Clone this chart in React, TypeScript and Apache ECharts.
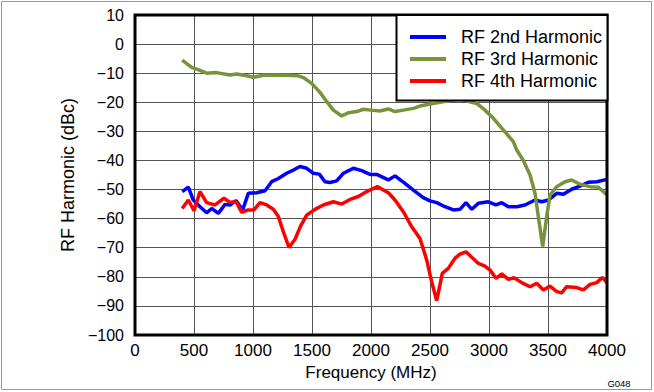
import React, { useEffect, useRef } from "react";
import * as echarts from "echarts";

const freq2 = [400, 452, 494, 551, 607, 650, 706, 763, 805, 856, 913, 960, 1031, 1102, 1158, 1215, 1285, 1342, 1398, 1455, 1511, 1562, 1610, 1653, 1709, 1766, 1850, 1921, 1992, 2048, 2147, 2203, 2288, 2359, 2443, 2500, 2557, 2627, 2698, 2754, 2805, 2854, 2910, 2994, 3059, 3108, 3164, 3235, 3305, 3390, 3447, 3503, 3574, 3630, 3701, 3771, 3842, 3913, 4000];
const harm2 = [-50.7, -49.2, -53.6, -55.9, -58.0, -56.5, -58.2, -55.1, -55.3, -53.8, -57.0, -51.3, -51.1, -50.4, -47.3, -46.2, -44.4, -43.3, -42.1, -42.7, -44.4, -44.7, -47.3, -47.6, -47.0, -44.4, -42.7, -43.5, -44.8, -44.8, -46.7, -45.3, -47.9, -50.2, -52.8, -53.9, -54.5, -55.9, -57.0, -56.8, -54.5, -56.8, -54.7, -54.2, -55.3, -54.5, -55.9, -55.9, -55.3, -53.6, -54.2, -53.6, -51.3, -51.6, -49.9, -48.8, -47.5, -47.3, -46.5];

const freq3 = [400, 480, 540, 607, 690, 805, 862, 946, 1003, 1088, 1172, 1285, 1384, 1427, 1497, 1568, 1625, 1681, 1752, 1808, 1879, 1935, 2000, 2076, 2147, 2203, 2274, 2359, 2415, 2500, 2585, 2680, 2760, 2839, 2896, 2966, 3037, 3121, 3206, 3235, 3291, 3348, 3390, 3418, 3455, 3489, 3517, 3574, 3644, 3701, 3771, 3856, 3927, 4000];
const harm3 = [-5.5, -8.0, -8.9, -10.0, -9.8, -10.6, -10.3, -10.9, -11.4, -10.7, -10.6, -10.7, -10.9, -11.5, -13.5, -16.6, -19.8, -22.7, -24.7, -23.6, -23.2, -22.4, -22.7, -23.0, -22.3, -23.2, -22.7, -22.1, -21.3, -20.6, -20.0, -19.3, -19.0, -19.8, -20.4, -22.7, -25.5, -29.5, -33.5, -36.4, -40.0, -45.0, -51.3, -59.3, -69.6, -59.3, -51.9, -49.0, -47.3, -46.7, -48.2, -49.0, -49.2, -51.9];

const freq4 = [400, 452, 500, 551, 607, 678, 754, 805, 856, 904, 960, 1008, 1059, 1116, 1172, 1215, 1257, 1305, 1356, 1404, 1455, 1525, 1596, 1681, 1752, 1822, 1893, 1964, 2054, 2147, 2203, 2274, 2345, 2415, 2472, 2514, 2557, 2604, 2655, 2712, 2754, 2805, 2854, 2910, 2966, 3009, 3059, 3108, 3164, 3212, 3277, 3348, 3404, 3461, 3517, 3574, 3616, 3658, 3743, 3799, 3856, 3913, 3960, 4000];
const harm4 = [-56.5, -53.6, -57.3, -50.7, -54.5, -55.3, -53.0, -54.4, -54.2, -57.8, -57.0, -57.0, -54.5, -55.3, -56.8, -59.3, -64.5, -69.9, -67.1, -62.5, -58.8, -56.8, -55.3, -54.2, -55.0, -53.4, -52.4, -50.7, -49.0, -51.1, -53.6, -57.6, -62.8, -66.8, -74.2, -81.7, -88.2, -78.8, -77.1, -73.6, -72.2, -71.4, -73.3, -75.4, -76.3, -77.7, -80.5, -79.0, -80.9, -80.3, -82.0, -83.4, -82.2, -84.5, -83.2, -85.1, -85.5, -83.4, -83.7, -84.5, -82.6, -82.0, -80.2, -82.0];

const seriesNames = ["RF 2nd Harmonic", "RF 3rd Harmonic", "RF 4th Harmonic"];
const seriesColors = ["#0000FF", "#77933C", "#FF0000"];
const xTitle = "Frequency (MHz)";
const yTitle = "RF Harmonic (dBc)";
const noteText = "G048";

const FONT = "'Liberation Sans', Arial, sans-serif";

function pairs(xs: number[], ys: number[]) {
  return xs.map((x, i) => [x, ys[i]]);
}

export default function App() {
  const ref = useRef<HTMLDivElement>(null);
  useEffect(() => {
    if (!ref.current) return;
    const chart = echarts.init(ref.current, null, { renderer: "svg" });
    const datasets = [pairs(freq2, harm2), pairs(freq3, harm3), pairs(freq4, harm4)];
    chart.setOption({
      animation: false,
      backgroundColor: "#ffffff",
      textStyle: { fontFamily: FONT },
      grid: {
        left: 135,
        top: 15,
        width: 472,
        height: 320,
        show: true,
        borderColor: "#000",
        borderWidth: 3,
        backgroundColor: "transparent",
        z: 5,
      },
      xAxis: {
        type: "value",
        min: 0,
        max: 4000,
        interval: 500,
        name: xTitle,
        nameLocation: "middle",
        nameGap: 28,
        nameTextStyle: { fontSize: 17, color: "#000", fontFamily: FONT },
        axisLine: { show: false },
        axisTick: { show: false },
        axisLabel: {
          fontSize: 17,
          color: "#000",
          margin: 7,
          fontFamily: FONT,
          formatter: (v: number) => String(v),
        },
        splitLine: { show: true, lineStyle: { color: "#555", width: 1 } },
      },
      yAxis: {
        type: "value",
        min: -100,
        max: 10,
        interval: 10,
        name: yTitle,
        nameLocation: "middle",
        nameGap: 50,
        nameRotate: 90,
        nameTextStyle: { fontSize: 18, color: "#000", fontFamily: FONT },
        axisLine: { show: false },
        axisTick: { show: false },
        axisLabel: {
          fontSize: 16,
          color: "#000",
          margin: 11,
          fontFamily: FONT,
          formatter: (v: number) => String(v).replace("-", "\u2212"),
        },
        splitLine: { show: true, lineStyle: { color: "#555", width: 1 } },
      },
      legend: {
        orient: "vertical",
        left: 410,
        top: 26,
        padding: 0,
        itemGap: 0,
        itemWidth: 36,
        itemHeight: 4,
        icon: "rect",
        z: 20,
        textStyle: { fontSize: 18, color: "#000", lineHeight: 22, fontFamily: FONT, padding: [0, 0, 0, 10] },
        data: seriesNames,
      },
      graphic: [
        {
          type: "rect",
          z: 15,
          shape: { x: 396.5, y: 15, width: 211, height: 85.5 },
          style: { fill: "#fff", stroke: "#000", lineWidth: 2 },
        },
        {
          type: "rect",
          z: 0,
          silent: true,
          shape: { x: 1.5, y: 1.5, width: 650, height: 388 },
          style: { fill: "none", stroke: "#999", lineWidth: 1 },
        },
        {
          type: "text",
          z: 20,
          x: 619,
          y: 383.5,
          style: { text: noteText, fontSize: 9.5, fill: "#000", fontFamily: FONT, align: "center", verticalAlign: "middle" },
        },
      ],
      series: seriesNames.map((name, i) => ({
        name,
        type: "line",
        data: datasets[i],
        showSymbol: false,
        symbol: "none",
        clip: true,
        z: 3,
        lineStyle: { color: seriesColors[i], width: 3.5 },
        itemStyle: { color: seriesColors[i] },
      })),
    });
    return () => chart.dispose();
  }, []);
  return (
    <div
      ref={ref}
      style={{ position: "fixed", left: 0, top: 0, width: 654, height: 392, background: "#fff" }}
    />
  );
}
